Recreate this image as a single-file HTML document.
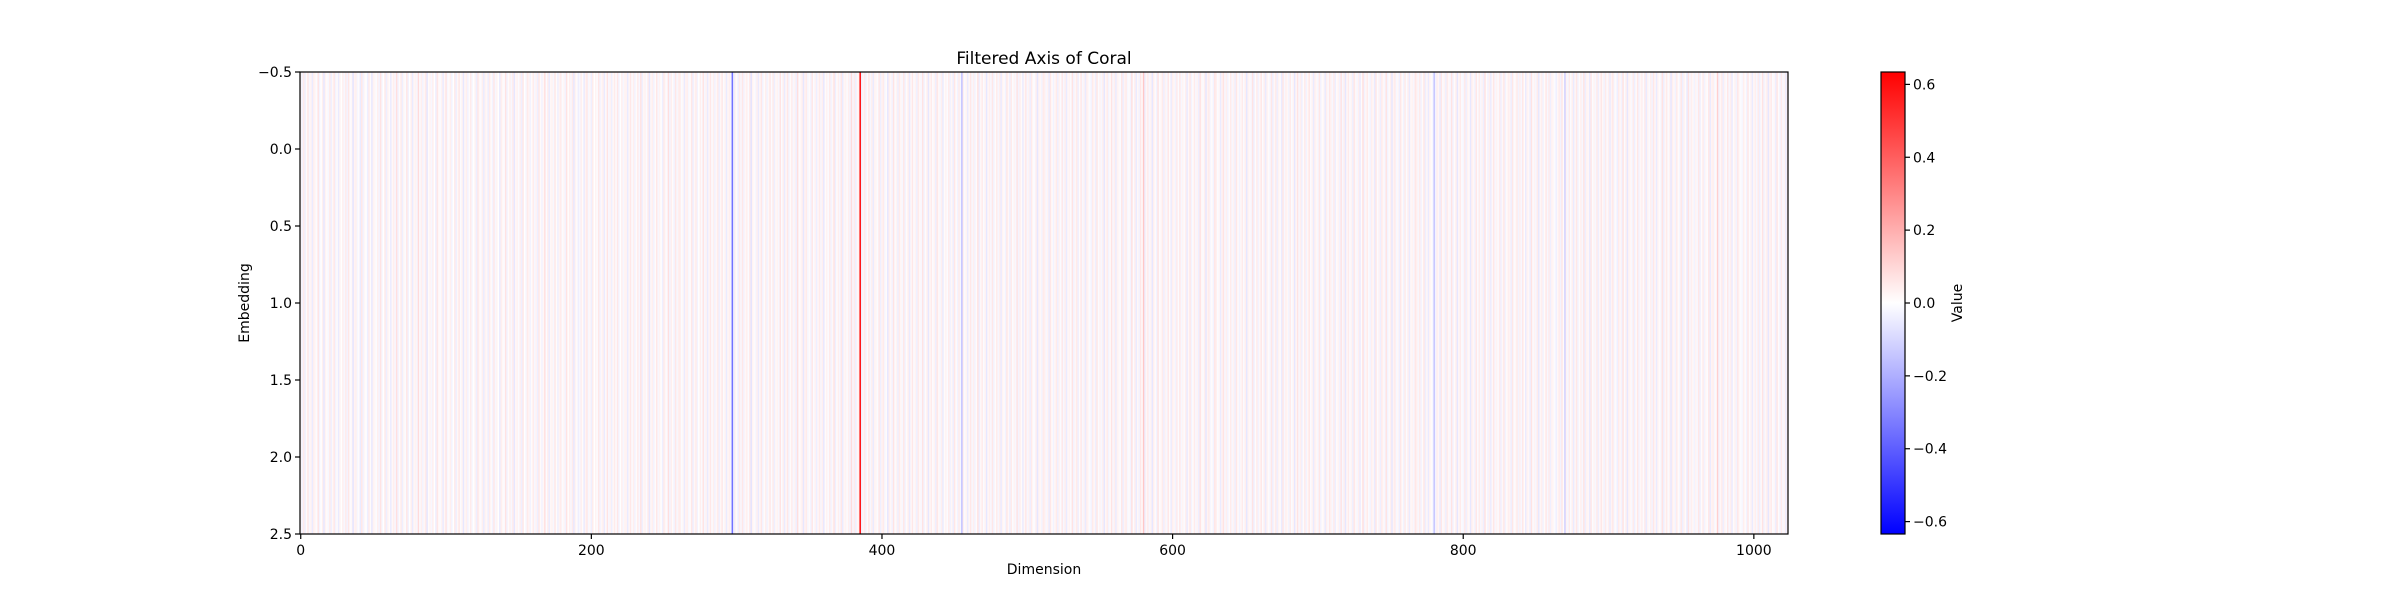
<!DOCTYPE html>
<html><head><meta charset="utf-8">
<style>
html,body{margin:0;padding:0;background:#fff;}
svg{display:block;font-family:"DejaVu Sans","Liberation Sans",sans-serif;}
</style></head>
<body>
<svg id="chart" width="2400" height="600" viewBox="0 0 2400 600">
  <rect width="2400" height="600" fill="#fff"/>
  <g id="cells"></g>
  <g id="axes"></g>
  <text x="1044" y="64" font-size="17" text-anchor="middle">Filtered Axis of Coral</text>
  <text x="1044" y="574" font-size="14" text-anchor="middle">Dimension</text>
  <text x="0" y="0" font-size="14" text-anchor="middle" transform="translate(249,303) rotate(-90)">Embedding</text>
  <defs>
    <linearGradient id="bwr" x1="0" y1="1" x2="0" y2="0">
      <stop offset="0" stop-color="#0000ff"/>
      <stop offset="0.5" stop-color="#ffffff"/>
      <stop offset="1" stop-color="#ff0000"/>
    </linearGradient>
  </defs>
  <g id="cbar"></g>
  <text x="0" y="0" font-size="14" text-anchor="middle" transform="translate(1962,303) rotate(-90)">Value</text>
</svg>
<script>
// column values (hundredths), 1024 dimensions
const values = [
 2,-3,5,-4,1,6,-2,3,-5,4,2,-1,7,-3,0,4,-6,3,1,-2,5,-4,2,6,-3,1,-5,3,0,4,-2,5,
 -3,6,-1,2,-7,3,4,-2,1,-5,6,-3,2,0,-4,5,1,-6,3,2,-1,4,-3,7,-2,0,5,-4,3,1,-5,2,
 4,-2,8,-3,1,5,-4,2,-1,6,-3,0,4,-5,2,3,-2,9,-1,4,-3,2,5,-6,1,3,-2,4,0,-4,6,2,
 -1,3,-5,2,7,-2,1,4,-3,0,5,-4,2,6,-1,3,-6,2,4,-3,1,5,-2,0,3,-4,6,2,-1,4,-5,3,
 2,-4,5,1,-3,6,-2,3,0,-5,4,2,-1,7,-3,1,4,-2,5,-6,2,3,-1,4,-4,6,0,-2,5,3,-3,1,
 5,-2,3,-4,6,1,-3,2,8,-1,4,-5,2,3,-2,6,1,-4,3,5,-1,2,-3,7,0,4,-2,5,-6,3,1,-4,
 -2,4,1,-5,3,6,-2,2,-4,5,0,3,-1,6,-3,2,4,-5,1,7,-2,3,-4,2,5,-1,6,-3,0,4,-2,3,
 3,-5,2,6,-1,4,-3,1,5,-2,7,-4,2,3,-1,5,-6,2,4,-3,1,6,-2,3,0,-4,5,2,-1,8,-3,4,
 1,-3,6,-2,4,5,-1,2,-5,3,4,-2,1,6,-4,2,5,-3,0,4,-1,7,-2,3,-5,2,6,-1,4,-3,2,5,
 -4,2,6,-1,3,-5,2,4,-2,-35,-6,3,1,-4,5,-2,6,-3,2,4,-1,5,-7,3,1,-2,4,-5,2,6,-3,1,
 4,-3,2,6,-1,5,-4,2,3,-2,7,-1,4,-5,2,6,-3,1,5,-2,3,-4,8,-1,2,4,-6,3,5,-2,1,-3,
 6,-1,3,-4,2,5,-2,4,-6,1,3,-1,5,-3,2,7,-4,1,4,-2,6,-5,2,3,-1,4,-3,9,-2,5,-4,2,
 3,63,-4,2,5,-3,1,6,-2,4,-5,3,2,-1,6,-4,3,5,-2,1,-6,4,2,-3,7,-1,3,-4,5,2,-2,6,
 -3,1,4,-5,2,6,-1,3,-4,5,2,-2,7,-3,1,4,-6,2,5,-1,3,-4,6,2,-2,4,-5,1,3,-1,5,-3,
 2,-4,6,1,-3,5,-2,-16,4,-1,3,-5,2,6,-2,4,-3,1,7,-4,2,5,-1,3,-6,2,4,-2,6,-3,1,5,
 -2,4,-5,3,1,-3,6,2,-4,5,-1,3,-2,7,-3,4,1,-5,2,6,-2,3,-4,5,1,-1,4,-6,3,2,-3,5,
 4,-2,3,-5,6,1,-3,2,5,-4,3,-1,6,-2,4,-5,2,3,-1,7,-3,2,5,-4,1,6,-2,3,-5,4,2,-1,
 -3,5,2,-4,6,-1,3,-2,4,-6,2,5,-3,1,7,-2,4,-5,3,2,-1,6,-4,3,5,-2,1,-3,8,-1,4,-5,
 2,-3,6,1,14,-4,2,5,-2,3,-6,4,1,-3,7,-1,2,5,-4,3,-2,6,1,-5,4,2,-3,5,-1,6,-2,3,
 -1,4,-5,2,6,-3,1,5,-2,3,-4,7,2,-1,4,-6,3,5,-2,1,-3,6,4,-1,2,-5,3,7,-2,4,-3,1,
 5,-2,3,-4,6,1,-3,2,5,-1,4,-6,3,2,-2,7,-4,1,5,-3,2,6,-1,4,-5,3,1,-2,6,-4,2,5,
 -4,3,1,-5,6,-2,4,2,-3,5,-1,3,-6,2,7,-2,4,-4,1,5,-3,2,6,-1,3,-5,4,2,-2,6,-3,1,
 2,-5,4,-1,6,3,-2,5,-4,1,3,-3,7,-2,4,-6,2,5,-1,3,-4,6,2,-2,4,-5,1,8,-3,2,5,-1,
 -3,4,2,-5,6,-1,3,-4,5,2,-2,7,-3,1,4,-6,3,5,-2,2,-4,6,1,-3,5,-1,4,-5,2,3,-2,6,
 4,-2,5,-3,1,6,-4,2,-5,3,1,-2,-15,-3,4,2,-5,6,-1,3,-4,5,2,-2,7,-3,1,4,-6,2,5,-1,
 -2,5,-4,3,1,-6,4,2,-3,6,-1,5,-2,3,-4,7,1,-3,4,-5,2,6,-2,3,-1,5,-4,2,6,-3,1,4,
 3,-4,6,-1,2,5,-3,4,-2,6,1,-5,3,2,-4,7,-1,3,-2,5,-6,2,4,-3,1,6,-2,5,-4,3,2,-1,
 -4,2,5,-3,6,1,-12,3,-2,5,-1,4,-5,2,6,-3,1,4,-2,7,-4,3,2,-5,6,-1,3,-2,5,-4,2,6,
 2,-3,5,-1,4,-5,3,6,-2,1,-4,5,2,-3,7,-1,4,-6,3,2,-2,5,-4,1,6,-3,2,4,-1,5,-5,3,
 -1,4,-3,6,2,-5,3,1,-2,7,-4,2,5,-1,3,-6,4,2,-3,5,1,-2,6,-4,3,1,-5,7,-2,4,2,-3,
 3,-2,6,-4,1,5,-3,2,-1,6,-5,3,4,-2,1,12,-3,2,5,-4,3,-1,6,-2,4,-5,1,3,-3,6,2,-1,
 -2,4,1,-3,6,-1,3,-5,2,4,-2,5,-4,1,7,-3,2,4,-6,3,5,-1,2,-4,6,1,-3,5,-2,3,-5,4
];
const rowLabels = [0, 1, 2];
const xTicks = [0, 200, 400, 600, 800, 1000];
const yTicks = [-0.5, 0.0, 0.5, 1.0, 1.5, 2.0, 2.5];
const cbarTicks = [-0.6, -0.4, -0.2, 0.0, 0.2, 0.4, 0.6];

const PL = 300, PR = 1788, PT = 72, PB = 534;
const VMAX = 0.634;
const NS = 'http://www.w3.org/2000/svg';
const xs = v => PL + (v + 0.5) / values.length * (PR - PL);
const ys = v => PT + (v + 0.5) / rowLabels.length * (PB - PT);
function color(v) {
  let t = Math.max(-1, Math.min(1, v / VMAX));
  if (t >= 0) { const c = Math.round(255 * (1 - t)); return `rgb(255,${c},${c})`; }
  const c = Math.round(255 * (1 + t)); return `rgb(${c},${c},255)`;
}
function mk(tag, attrs, parent) {
  const e = document.createElementNS(NS, tag);
  for (const k in attrs) e.setAttribute(k, attrs[k]);
  parent.appendChild(e); return e;
}
const cells = document.getElementById('cells');
rowLabels.forEach((r) => {
  values.forEach((v, i) => {
    const val = v / 100;
    const x0 = xs(i - 0.5), x1 = xs(i + 0.5);
    const rc = mk('rect', {x: x0, y: ys(r - 0.5), width: x1 - x0 + 0.3, height: ys(r + 0.5) - ys(r - 0.5) + 0.3, fill: color(val)}, cells);
    
    
  });
});
const axes = document.getElementById('axes');
const frame = mk('rect', {x: PL, y: PT, width: PR - PL, height: PB - PT, fill: 'none', stroke: '#000', 'stroke-width': 1.2}, axes);


xTicks.forEach(t => {
  const x = xs(t);
  mk('line', {x1: x, x2: x, y1: PB, y2: PB + 5, stroke: '#000', 'stroke-width': 1.2}, axes);
  const tx = mk('text', {x: x, y: PB + 21, 'font-size': 14, 'text-anchor': 'middle'}, axes);
  tx.textContent = t;
  
  
});
yTicks.forEach(t => {
  const y = ys(t);
  mk('line', {x1: PL - 5, x2: PL, y1: y, y2: y, stroke: '#000', 'stroke-width': 1.2}, axes);
  const tx = mk('text', {x: PL - 8, y: y + 5, 'font-size': 14, 'text-anchor': 'end'}, axes);
  tx.textContent = (t < 0 ? '\u2212' : '') + Math.abs(t).toFixed(1);
  
  
});
const CL = 1881, CR = 1905;
const cs = v => PT + (VMAX - v) / (2 * VMAX) * (PB - PT);
const cb = document.getElementById('cbar');
const cr = mk('rect', {x: CL, y: PT, width: CR - CL, height: PB - PT, fill: 'url(#bwr)', stroke: '#000', 'stroke-width': 1.2}, cb);


cbarTicks.forEach(t => {
  const y = cs(t);
  mk('line', {x1: CR, x2: CR + 5, y1: y, y2: y, stroke: '#000', 'stroke-width': 1.2}, cb);
  const tx = mk('text', {x: CR + 8, y: y + 5, 'font-size': 14}, cb);
  tx.textContent = (t < 0 ? '\u2212' : '') + Math.abs(t).toFixed(1);
  
  
});
</script>
</body></html>
